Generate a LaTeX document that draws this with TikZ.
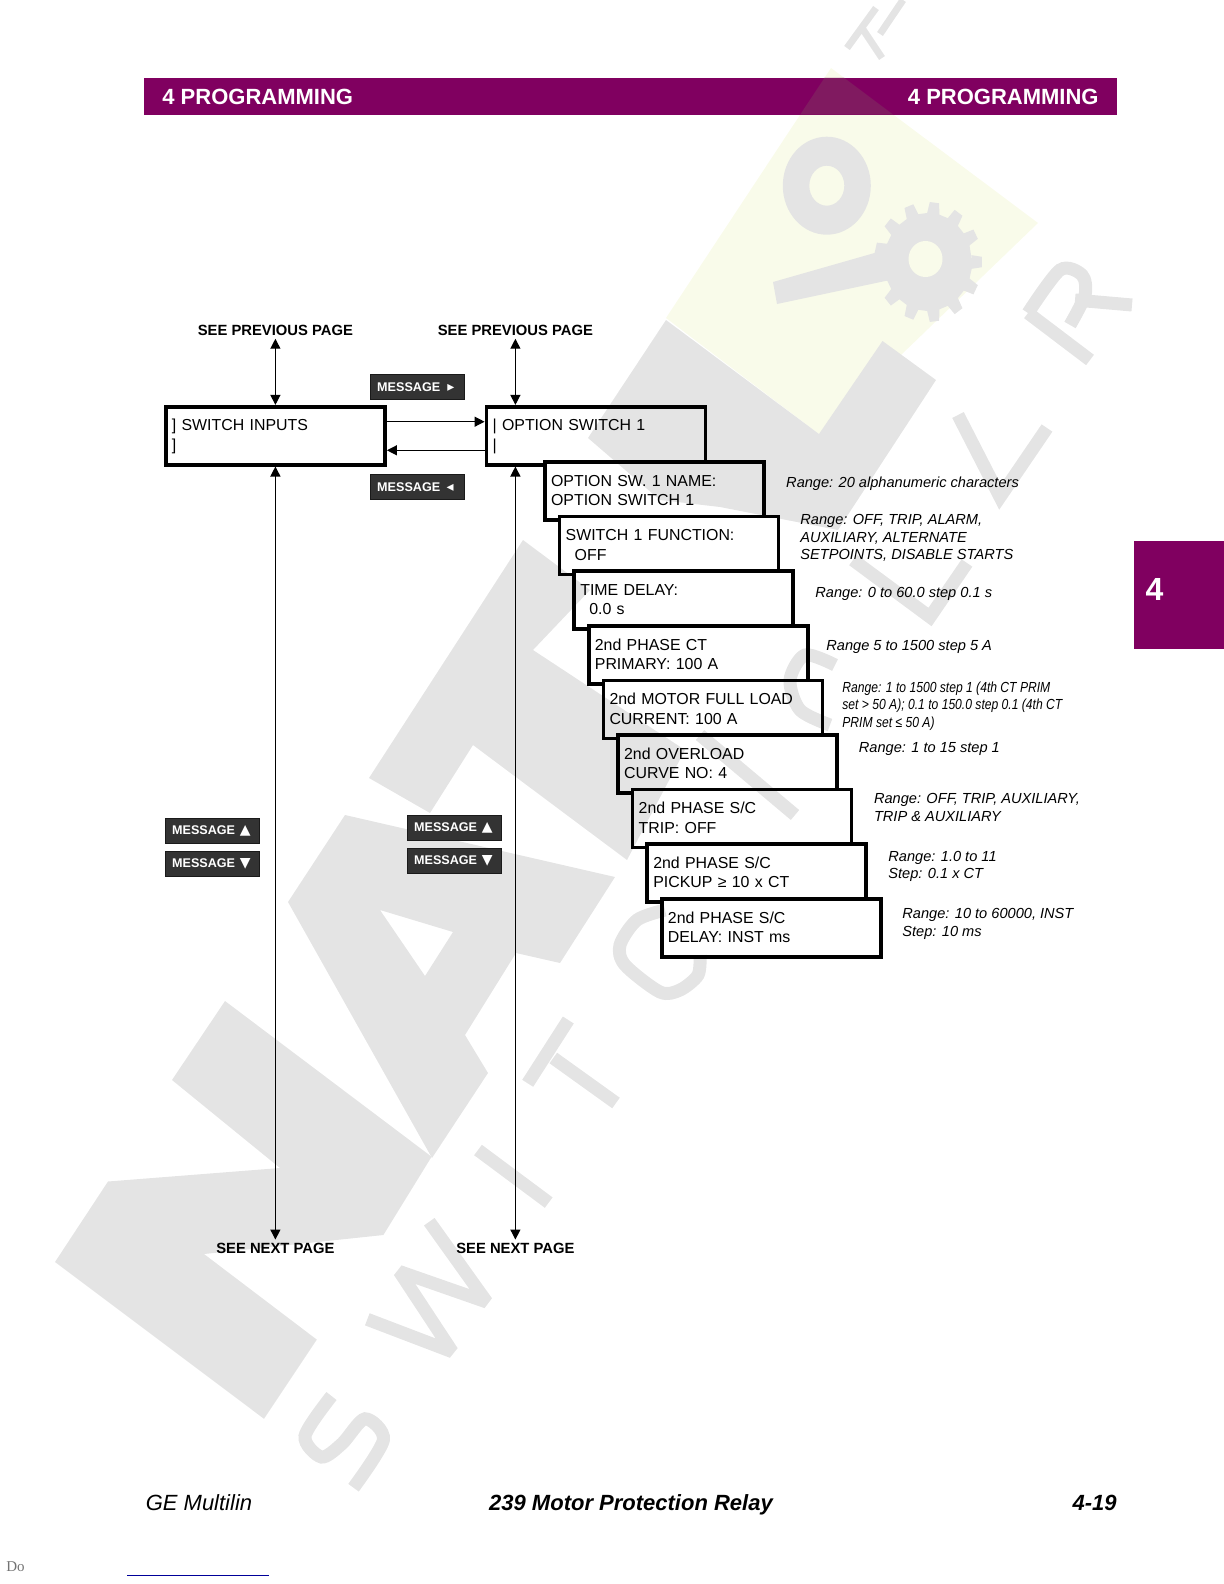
\documentclass[tikz,border=0pt]{standalone}
\usepackage{fontspec}
\usepackage{graphicx}
\setmainfont{Liberation Sans}
\newfontfamily\djv{DejaVu Sans}
\newfontfamily\lserif{Liberation Serif}
\usetikzlibrary{arrows.meta,calc}
\definecolor{plum}{HTML}{800060}
\definecolor{plumlit}{HTML}{801A60}
\definecolor{wmgray}{HTML}{E4E4E4}
\definecolor{wmyellow}{HTML}{F9FBEA}
\definecolor{badgefill}{HTML}{333333}
\definecolor{badgeline}{HTML}{1A1A1A}
\definecolor{footblue}{HTML}{000099}
\tikzset{
  stackbox/.style={anchor=north west,inner ysep=0pt,inner xsep=3.1pt,outer sep=0pt,
    text width=103.3pt,minimum height=29pt,align=left,
    font=\fontsize{7.95}{9.7}\selectfont,execute at end node={\par\kern.6pt\relax}},
  frameline/.style={line width=1.8pt,line cap=butt,miter limit=10},
  badge/.style={anchor=north west,fill=badgefill,draw=badgeline,line width=.5pt,inner ysep=0pt,
    inner xsep=3.4pt,outer sep=0pt,text width=40.4pt,minimum height=12.7pt,align=left,
    text=white,font=\fontsize{6.3}{7}\selectfont\bfseries},
  conn/.style={line width=.6pt,{Triangle[length=5pt,width=5pt]}-{Triangle[length=5pt,width=5pt]}},
  pagelabel/.style={font=\fontsize{7.4}{8}\selectfont\bfseries,inner xsep=0pt,inner ysep=1.4pt},
  rangelabel/.style={anchor=west,align=left,inner sep=0pt,font=\fontsize{7.3}{8.75}\selectfont\itshape},
  wmstroke/.style={draw=wmgray,line width=6.5pt,line join=miter,miter limit=2,line cap=butt},
}
\newcommand{\stairframe}[1]{\draw[frameline] ($(#1.north east)+(0,54.6)$) -- (#1.north east) -- (#1.north west) -- (#1.south west) -- ($(#1.south west)+(14.6,0)$);}
\begin{document}
\begin{tikzpicture}[x=.5pt,y=-.5pt]
\useasboundingbox (0,0) rectangle (1224,1584);
% watermark
\fill[wmyellow] (831,68) -- (1038,223) -- (819,434) -- (666,318) -- cycle;
\fill[wmgray] (588,438) -- (666,320) -- (819,434) -- (882.5,341) -- (936,380) -- (838,530) -- (720,507) -- (660,500) -- cycle;
\fill[wmgray] (523,540) -- (590,590) -- (533,650) -- (685,750) -- (627,860) -- (473,745) -- (430,813) -- (369,778) -- cycle;
\fill[wmgray,even odd rule] (345,815) -- (615,877) -- (560,963) -- (516,953) -- (465,1035) -- (488,1073) -- (432,1158) -- (288,902) -- cycle
  (380,910) -- (453,932) -- (425,976) -- cycle;
\fill[wmgray] (55,1262) -- (108,1181.5) -- (280,1168) -- (172,1080) -- (225,1001) -- (431.6,1156.7) -- (383.4,1235) -- (204,1254) -- (316.8,1339.6) -- (264,1418.8) -- cycle;
% ring and gear
\fill[wmgray,even odd rule] (826.8,185.7) ellipse [x radius=44,y radius=49] (826.8,185.7) ellipse [x radius=17.5,y radius=20];
\fill[wmgray] (773,282) -- (777,304) -- (890,280) -- (885,250) -- cycle;
\begin{scope}[shift={(928,262)},xscale=.9]
\fill[wmgray] (0:49) \foreach \k in {0,...,12} { -- ({\k*27.69-8}:49) -- ({\k*27.69-5}:60) -- ({\k*27.69+5}:60) -- ({\k*27.69+8}:49) } -- cycle;
\end{scope}
\fill[wmyellow] (925.5,259) ellipse [x radius=17,y radius=18];
% letters
\draw[wmstroke] plot[smooth] coordinates {(331.5,1396) (305,1436) (321.4,1457) (342,1443.7) (365,1418.8) (383.4,1439.9) (353.5,1487.7)};
\draw[wmstroke] (367.3,1319.3) -- (452.2,1351.7) -- (399.4,1271.5) -- (486.7,1302) -- (429.3,1221.7);
\draw[wmstroke] (478,1150) -- (548.7,1202.6);
\draw[wmstroke] (568.3,1020) -- (527.7,1083.3);
\draw[wmstroke] (553.3,1058) -- (616,1103);
\draw[wmstroke] plot[smooth] coordinates {(665,910) (637,920) (620,945) (625,965) (660,992) (680,990) (698,975) (700,955)};
\draw[wmstroke] (700,735) -- (795,815);
\draw[wmstroke] plot[smooth] coordinates {(835,665) (805,655) (790,680) (800,710) (830,725)};
\draw[wmstroke] (853,560) -- (930,617) -- (967,563);
\draw[wmstroke] (958,415) -- (1000,497) -- (1047,428);
\draw[wmstroke] (1090,360) -- (1028,313);
\draw[wmstroke] plot[smooth] coordinates {(1028,313) (1060,270) (1082,275) (1085,295) (1070,325)};
\draw[wmstroke] (1075,300) -- (1132,305);
\draw[wmgray,line width=3.5pt] (847,48) -- (876,8) (862,28) -- (882,58);
\draw[wmgray,line width=3.5pt] (880,34) -- (903,0);
% header band
\fill[plum] (144,78) rectangle (1117,114.6);
\fill[plumlit] (824.4,78) -- (844.4,78) -- (893.2,114.6) -- (800.2,114.6) -- cycle;
\node[anchor=base west,inner sep=0pt,text=white,font=\fontsize{11}{12}\selectfont\bfseries] (headl) at (162,104.3) {4 PROGRAMMING};
\node[anchor=base east,inner sep=0pt,text=white,font=\fontsize{11}{12}\selectfont\bfseries] (headr) at (1099,104.3) {4 PROGRAMMING};
% chapter tab
\fill[plum] (1134,540.5) rectangle (1224,648.5);
\node[text=white,inner sep=0pt,font=\fontsize{16}{18}\selectfont\bfseries] (tabnum) at (1154.6,589) {4};
% page labels
\node[pagelabel] (prevA) at (275.4,330.3) {SEE PREVIOUS PAGE};
\node[pagelabel] (prevB) at (515.4,330.3) {SEE PREVIOUS PAGE};
\node[pagelabel] (nextA) at (275.4,1248) {SEE NEXT PAGE};
\node[pagelabel] (nextB) at (515.4,1248) {SEE NEXT PAGE};
% top boxes
\node[stackbox,text width=103.5pt,execute at end node={\par\kern-1.4pt\relax}] (sw) at (165.7,406.7) {] SWITCH INPUTS\\]};
\node[stackbox,execute at end node={\par\kern-1.4pt\relax}] (opt) at (486.4,406.7) {| OPTION SWITCH 1\\|};
% connectors
\draw[conn,shorten >=.9pt] (prevA.south) -- (prevA.south |- sw.north);
\draw[conn,shorten >=.9pt] (prevB.south) -- (prevB.south |- opt.north);
\draw[conn,shorten >=.9pt] (nextA.north) -- (nextA.north |- sw.south);
\draw[conn,shorten >=.9pt] (nextB.north) -- (nextB.north |- opt.south);
\draw[line width=.6pt,-{Triangle[length=5pt,width=5pt]},shorten >=.9pt] ([yshift=-7.5pt]sw.north east) -- ([yshift=-7.5pt]opt.north west);
\draw[line width=.6pt,-{Triangle[length=5pt,width=5pt]},shorten >=.9pt] ([yshift=-21.8pt]opt.north west) -- ([yshift=-21.8pt]sw.north east);
\draw[frameline] (sw.north west) rectangle (sw.south east);
\draw[frameline] ($(opt.north east)+(0,55.2)$) -- (opt.north east) -- (opt.north west) -- (opt.south west) -- ($(opt.south west)+(58.5,0)$);
% stacked boxes
\node[stackbox] (s1) at (544.9,461.9) {OPTION SW. 1 NAME:\\OPTION SWITCH 1};
\node[stackbox] (s2) at (559.5,516.5) {SWITCH 1 FUNCTION:\\\hspace*{4.5pt}OFF};
\node[stackbox] (s3) at (574.1,571.1) {TIME DELAY:\\\hspace*{4.5pt}0.0 s};
\node[stackbox] (s4) at (588.7,625.7) {2nd PHASE CT\\PRIMARY: 100 A};
\node[stackbox] (s5) at (603.3,680.3) {2nd MOTOR FULL LOAD\\CURRENT: 100 A};
\node[stackbox] (s6) at (617.9,734.9) {2nd OVERLOAD\\CURVE NO: 4};
\node[stackbox] (s7) at (632.5,789.5) {2nd PHASE S/C\\TRIP: OFF};
\node[stackbox] (s8) at (647.1,844.1) {2nd PHASE S/C\\PICKUP ≥ 10 x CT};
\node[stackbox] (s9) at (661.7,898.7) {2nd PHASE S/C\\DELAY: INST ms};
\stairframe{s1}\stairframe{s2}\stairframe{s3}\stairframe{s4}\stairframe{s5}\stairframe{s6}\stairframe{s7}\stairframe{s8}
\draw[frameline] (s9.north west) rectangle (s9.south east);
% range labels
\node[rangelabel] (r1) at (785.8,483.8) {Range: 20 alphanumeric characters};
\node[rangelabel] (r2) at (800,538.3) {Range: OFF, TRIP, ALARM,\\AUXILIARY, ALTERNATE\\SETPOINTS, DISABLE STARTS};
\node[rangelabel] (r3) at (815,594) {Range: 0 to 60.0 step 0.1 s};
\node[rangelabel] (r4) at (826,647.4) {Range 5 to 1500 step 5 A};
\node[rangelabel] (r5) at (842,706) {\scalebox{.83}[1]{\begin{tabular}{@{}l@{}}Range: 1 to 1500 step 1 (4th CT PRIM\\set > 50 A); 0.1 to 150.0 step 0.1 (4th CT\\PRIM set ≤ 50 A)\end{tabular}}};
\node[rangelabel] (r6) at (858.5,749.4) {Range: 1 to 15 step 1};
\node[rangelabel] (r7) at (873.6,807.5) {Range: OFF, TRIP, AUXILIARY,\\TRIP \& AUXILIARY};
\node[rangelabel] (r8) at (888,866.5) {Range: 1.0 to 11\\Step: 0.1 x CT};
\node[rangelabel] (r9) at (902,924) {Range: 10 to 60000, INST\\Step: 10 ms};
% message badges
\node[badge] (mr) at (370.4,374.3) {MESSAGE\hspace{3.6pt}{\djv\fontsize{7}{7}\selectfont ▸}};
\node[badge] (ml) at (370.4,474.3) {MESSAGE\hspace{3.2pt}{\djv\fontsize{7}{7}\selectfont ◂}};
\node[badge] (au) at (165.3,818.3) {MESSAGE\hspace{2.4pt}{\djv\fontsize{7}{7}\selectfont ▲}};
\node[badge] (ad) at (165.3,851.3) {MESSAGE\hspace{2.4pt}{\djv\fontsize{7}{7}\selectfont ▼}};
\node[badge] (bu) at (407.3,815.3) {MESSAGE\hspace{2.4pt}{\djv\fontsize{7}{7}\selectfont ▲}};
\node[badge] (bd) at (407.3,848.3) {MESSAGE\hspace{2.4pt}{\djv\fontsize{7}{7}\selectfont ▼}};
% footer
\node[anchor=base west,inner sep=0pt,font=\fontsize{11}{12}\selectfont\itshape] (footl) at (145.4,1510) {GE Multilin};
\node[anchor=base,inner sep=0pt,font=\fontsize{11}{12}\selectfont\bfseries\itshape] (footc) at (631,1510) {239 Motor Protection Relay};
\node[anchor=base east,inner sep=0pt,font=\fontsize{11}{12}\selectfont\bfseries\itshape] (footr) at (1117,1510) {4-19};
\node[anchor=base west,inner sep=0pt,text=black!55,font=\lserif\fontsize{7.5}{9}\selectfont] (fragment) at (6,1571) {Do};
\draw[footblue,line width=.6pt] (127,1575.3) -- (268.7,1575.3);
\end{tikzpicture}
\end{document}
